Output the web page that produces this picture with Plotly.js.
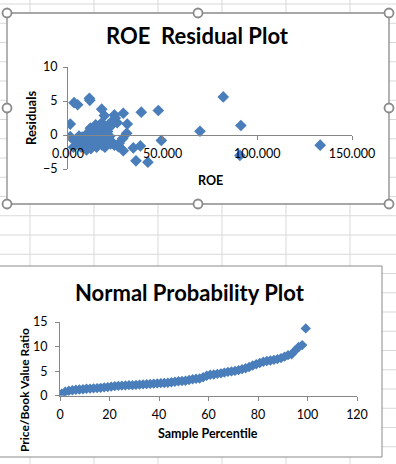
<!DOCTYPE html>
<html>
<head>
<meta charset="utf-8">
<script src="https://cdn.plot.ly/plotly-3.0.1.min.js"></script>
<style>html,body{margin:0;padding:0;background:#fff;}#chart{width:396px;height:464px;}</style>
</head>
<body>
<div id="chart"></div>
<script>
// ROE residual plot data
const roe = [1.2, 1.2, 3.2, 5.1, 11.3, 11.5, 17.8, 19.2, 24.5, 25, 29.2, 31.3, 31, 28.9, 23.6, 38.7, 47.7, 49.3, 69.7, 82, 91.3, 90.8, 133.2, 34.5, 38.2, 35.9, 42.2, 29.2, 5.8, 5.1, 2.8, 8.6, 8.1, 10.7, 11.8, 13.4, 14.6, 12.5, 13.9, 12.1, 16.9, 17.8, 19, 19.5, 18.6, 16.9, 15.1, 19.5, 21.3, 20.9, 22, 23.1, 24.5, 26.6, 23.9, 9.8, 6.9, 16, 4.0, 7.5, 10, 15, 18, 21, 26, 27, 14, 20, 10.5, 22.5];
const residuals = [1.6, -0.25, 4.75, 4.45, 5.4, 5.1, 3.8, 2.85, 2.95, 2.5, 3.2, 1.6, 0.25, -0.5, 1.6, 3.35, 3.6, -0.8, 0.55, 5.6, 1.4, -3.0, -1.5, -1.9, -1.6, -3.8, -4.0, -2.3, -0.15, -0.7, -1.8, -0.6, -1.6, -0.8, 1.0, 0.5, 1.5, -0.35, -1.5, -2.0, 1.0, 1.8, 0.75, 0, -0.7, -1.2, -1.8, -1.8, 1.5, 0.5, -0.2, -1.0, -1.5, -1.7, 2.2, -2.2, -1.8, 0, -1.0, -0.3, -1.2, 0.3, -1.5, 0.9, 1.8, -1.2, -1.0, -0.4, 0.3, -1.3];

// Normal probability plot data
const samplePercentile = [0.71, 2.14, 3.57, 5.00, 6.43, 7.86, 9.29, 10.71, 12.14, 13.57, 15.00, 16.43, 17.86, 19.29, 20.71, 22.14, 23.57, 25.00, 26.43, 27.86, 29.29, 30.71, 32.14, 33.57, 35.00, 36.43, 37.86, 39.29, 40.71, 42.14, 43.57, 45.00, 46.43, 47.86, 49.29, 50.71, 52.14, 53.57, 55.00, 56.43, 57.86, 59.29, 60.71, 62.14, 63.57, 65.00, 66.43, 67.86, 69.29, 70.71, 72.14, 73.57, 75.00, 76.43, 77.86, 79.29, 80.71, 82.14, 83.57, 85.00, 86.43, 87.86, 89.29, 90.71, 92.14, 93.57, 95.00, 96.43, 97.86, 99.29];
const priceBook = [0.4, 0.8, 1.0, 1.1, 1.2, 1.25, 1.3, 1.4, 1.45, 1.5, 1.55, 1.6, 1.7, 1.75, 1.85, 1.95, 2.0, 2.05, 2.1, 2.15, 2.15, 2.2, 2.25, 2.3, 2.35, 2.4, 2.45, 2.5, 2.55, 2.6, 2.65, 2.75, 2.85, 2.95, 3.0, 3.05, 3.2, 3.35, 3.45, 3.5, 3.75, 4.05, 4.25, 4.3, 4.45, 4.55, 4.7, 4.85, 4.95, 5.05, 5.2, 5.4, 5.6, 5.85, 6.15, 6.4, 6.65, 6.9, 7.05, 7.15, 7.3, 7.45, 7.65, 7.95, 8.25, 8.45, 9.2, 9.9, 10.3, 13.7];

const W = 396, H = 464;
const px = x => x / W;
const py = y => 1 - y / H;

const blue = '#4a7ebb';
const axisGray = '#868686';
const FONT = 'Lato, "Liberation Sans", sans-serif';

// Excel sheet grid + chart frames + handles
const shapes = [];
const gridColor = '#d9d9d9';
[30, 94, 158, 222, 286, 350].forEach(x => shapes.push({type:'line', xref:'paper', yref:'paper', x0:px(x), x1:px(x), y0:0, y1:1, line:{color:gridColor, width:1}, layer:'below'}));
for (let y = 4; y < H; y += 19.25) shapes.push({type:'line', xref:'paper', yref:'paper', x0:0, x1:1, y0:py(y), y1:py(y), line:{color:gridColor, width:1}, layer:'below'});
// chart areas
shapes.push({type:'rect', xref:'paper', yref:'paper', x0:px(7), x1:px(389), y0:py(204), y1:py(13), fillcolor:'#ffffff', line:{color:'#8a8a8a', width:1.3}, layer:'below'});
shapes.push({type:'rect', xref:'paper', yref:'paper', x0:px(-2), x1:px(382), y0:py(457), y1:py(266), fillcolor:'#ffffff', line:{color:'#8a8a8a', width:1}, layer:'below'});
// selection handles
[[7,13],[198,13],[389,13],[7,108],[389,108],[7,204],[198,204],[389,204]].forEach(([cx,cy]) => {
  const r = 4.5;
  shapes.push({type:'circle', xref:'paper', yref:'paper', x0:px(cx-r), x1:px(cx+r), y0:py(cy+r), y1:py(cy-r), fillcolor:'#ffffff', line:{color:'#8a8a8a', width:1.8}, layer:'above'});
});

const traces = [
  {x: roe, y: residuals, type:'scatter', mode:'markers', xaxis:'x', yaxis:'y', name:'Residuals',
   marker:{symbol:'diamond', size:9, color:blue, line:{width:0}}},
  {x: samplePercentile, y: priceBook, type:'scatter', mode:'markers', xaxis:'x2', yaxis:'y2', name:'Price/Book Value Ratio',
   marker:{symbol:'diamond', size:8, color:blue, line:{width:0}}}
];

const tickFont = {family: FONT, size: 12.5, color: '#000'};
const axisCommon = {showgrid:false, zeroline:false, showline:true, linecolor:axisGray, linewidth:1, ticks:'outside', ticklen:4, tickcolor:axisGray, tickfont:tickFont, fixedrange:true};

const layout = {
  width: W, height: H,
  margin: {l:0, r:0, t:0, b:0},
  paper_bgcolor: '#ffffff', plot_bgcolor: 'rgba(0,0,0,0)',
  showlegend: false,
  font: {family: FONT, color:'#000'},
  title: {text: 'ROE\u00a0 Residual Plot', x: px(197), y: py(36), xref:'paper', yref:'paper', xanchor:'center', yanchor:'middle', font:{family:FONT, size:22, color:'#000', weight:'bold'}},
  xaxis: Object.assign({}, axisCommon, {domain:[px(68), px(352)], range:[0,150], dtick:50, tickformat:'.3f', anchor:'free', position: py(135), ticklabelstandoff: 3}),
  yaxis: Object.assign({}, axisCommon, {domain:[py(169), py(67)], range:[-5,10], dtick:5, anchor:'x', ticklabelstandoff: 3}),
  xaxis2: Object.assign({}, axisCommon, {domain:[px(60), px(357)], range:[0,120], dtick:20, anchor:'y2', ticklabelstandoff: 3}),
  yaxis2: Object.assign({}, axisCommon, {domain:[py(395.7), py(322)], range:[0,15], dtick:5, anchor:'x2', ticklabelstandoff: 5}),
  shapes: shapes,
  annotations: [
    {text:'Normal Probability Plot', xref:'paper', yref:'paper', x:px(190), y:py(292), xanchor:'center', yanchor:'middle', showarrow:false, font:{family:FONT, size:22, color:'#000', weight:'bold'}},
    {text:'Residuals', xref:'paper', yref:'paper', x:px(31), y:py(118), xanchor:'center', yanchor:'middle', textangle:-90, showarrow:false, font:{family:FONT, size:13, color:'#000', weight:'bold'}},
    {text:'ROE', xref:'paper', yref:'paper', x:px(210), y:py(180), xanchor:'center', yanchor:'middle', showarrow:false, font:{family:FONT, size:12.5, color:'#000', weight:'bold'}},
    {text:'Price/Book Value Ratio', xref:'paper', yref:'paper', x:px(24), y:py(390), xanchor:'center', yanchor:'middle', textangle:-90, showarrow:false, font:{family:FONT, size:12, color:'#000', weight:'bold'}},
    {text:'Sample Percentile', xref:'paper', yref:'paper', x:px(208), y:py(433), xanchor:'center', yanchor:'middle', showarrow:false, font:{family:FONT, size:12.5, color:'#000', weight:'bold'}}
  ]
};

Plotly.newPlot('chart', traces, layout, {staticPlot:true, displayModeBar:false});
</script>
</body>
</html>
